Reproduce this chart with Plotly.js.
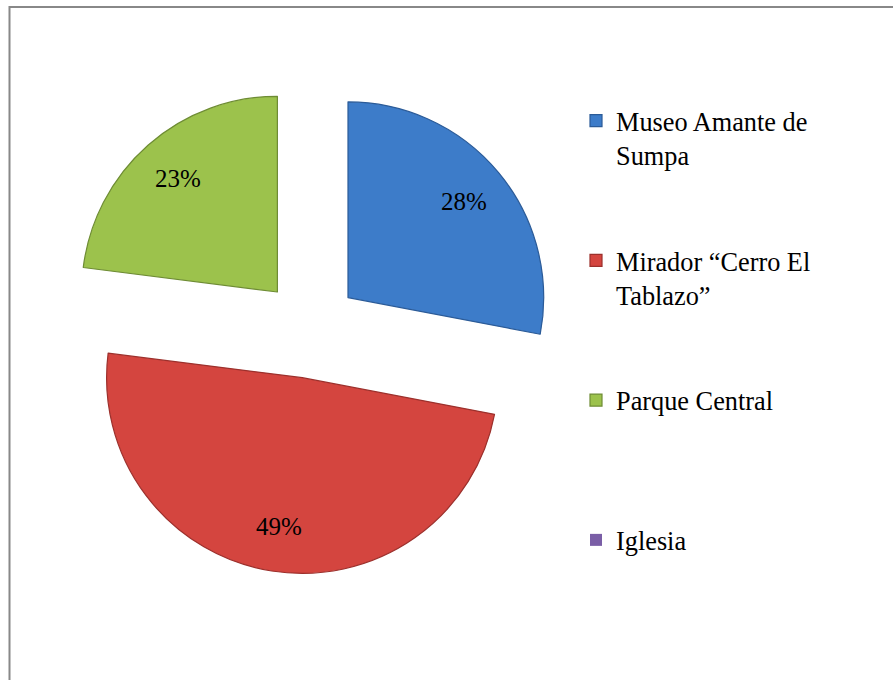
<!DOCTYPE html>
<html>
<head>
<meta charset="utf-8">
<script src="https://cdn.plot.ly/plotly-3.0.1.min.js"></script>
<style>html,body{margin:0;padding:0;background:#fff;}#chart{width:893px;height:680px;}</style>
</head>
<body>
<div id="chart"></div>
<script>
// Data
const categories = ["Museo Amante de Sumpa", "Mirador \u201cCerro El Tablazo\u201d", "Parque Central", "Iglesia"];
const legendLines = [["Museo Amante de", "Sumpa"], ["Mirador \u201cCerro El", "Tablazo\u201d"], ["Parque Central"], ["Iglesia"]];
const values = [28, 49, 23, 0];
const colors = ["#3d7cc9", "#d4453f", "#9cc24c", "#7a5ea6"];
const lineColors = ["#2b5b98", "#9c302c", "#6e8c34", "#56407a"];

const SERIF = "'Liberation Serif', 'Times New Roman', 'DejaVu Serif', serif";
const LINES_PER_ENTRY = 4;
const PULL = 0.252;
const LABEL_FRAC = 0.77;

const displayLabels = legendLines.map(function (ls) {
  const out = ls.slice();
  while (out.length < LINES_PER_ENTRY) out.push(" ");
  return out.join("<br>");
});

const W = 893, H = 680;
const trace = {
  type: "pie",
  labels: displayLabels,
  values: values,
  sort: false,
  direction: "clockwise",
  rotation: 0,
  pull: values.map(function () { return PULL; }),
  marker: { colors: colors, line: { color: lineColors, width: values.map(function (v) { return v ? 1.2 : 0; }) } },
  textinfo: "none",
  hoverinfo: "label+percent",
  domain: { x: [65 / W, 555 / W], y: [1 - 574 / H, 1 - 84 / H] }
};

const layout = {
  width: W, height: H,
  margin: { l: 0, r: 0, t: 0, b: 0 },
  paper_bgcolor: "#fff",
  showlegend: true,
  legend: {
    x: 576 / W, xanchor: "left",
    y: 1 - 97 / H, yanchor: "top",
    valign: "top",
    font: { family: SERIF, size: 26.3, color: "#000" },
    bgcolor: "rgba(0,0,0,0)"
  },
  shapes: [{
    type: "rect", xref: "paper", yref: "paper",
    x0: 9.5 / W, x1: 1.05, y0: -0.05, y1: 1 - 7 / H,
    line: { color: "#888", width: 2 }, fillcolor: "rgba(0,0,0,0)"
  }]
};

const gd = document.getElementById("chart");
Plotly.newPlot(gd, [trace], layout, { displayModeBar: false, staticPlot: true }).then(function () {
  // Percentage labels placed from the library's computed pie geometry
  const cd = gd.calcdata[0];
  const cd0 = cd[0];
  const total = values.reduce(function (a, b) { return a + b; }, 0);
  const anns = [];
  cd.forEach(function (pt) {
    if (!pt.v) return;
    const r = cd0.r;
    const ux = pt.pxmid[0] / r, uy = pt.pxmid[1] / r;
    const dist = (PULL + LABEL_FRAC) * r;
    const px = cd0.cx + ux * dist, py = cd0.cy + uy * dist;
    anns.push({
      xref: "paper", yref: "paper",
      x: px / W, y: 1 - py / H,
      text: Math.round(pt.v / total * 100) + "%",
      showarrow: false,
      font: { family: SERIF, size: 25, color: "#000" },
      xanchor: "center", yanchor: "middle"
    });
  });
  return Plotly.relayout(gd, { annotations: anns });
});
</script>
</body>
</html>
